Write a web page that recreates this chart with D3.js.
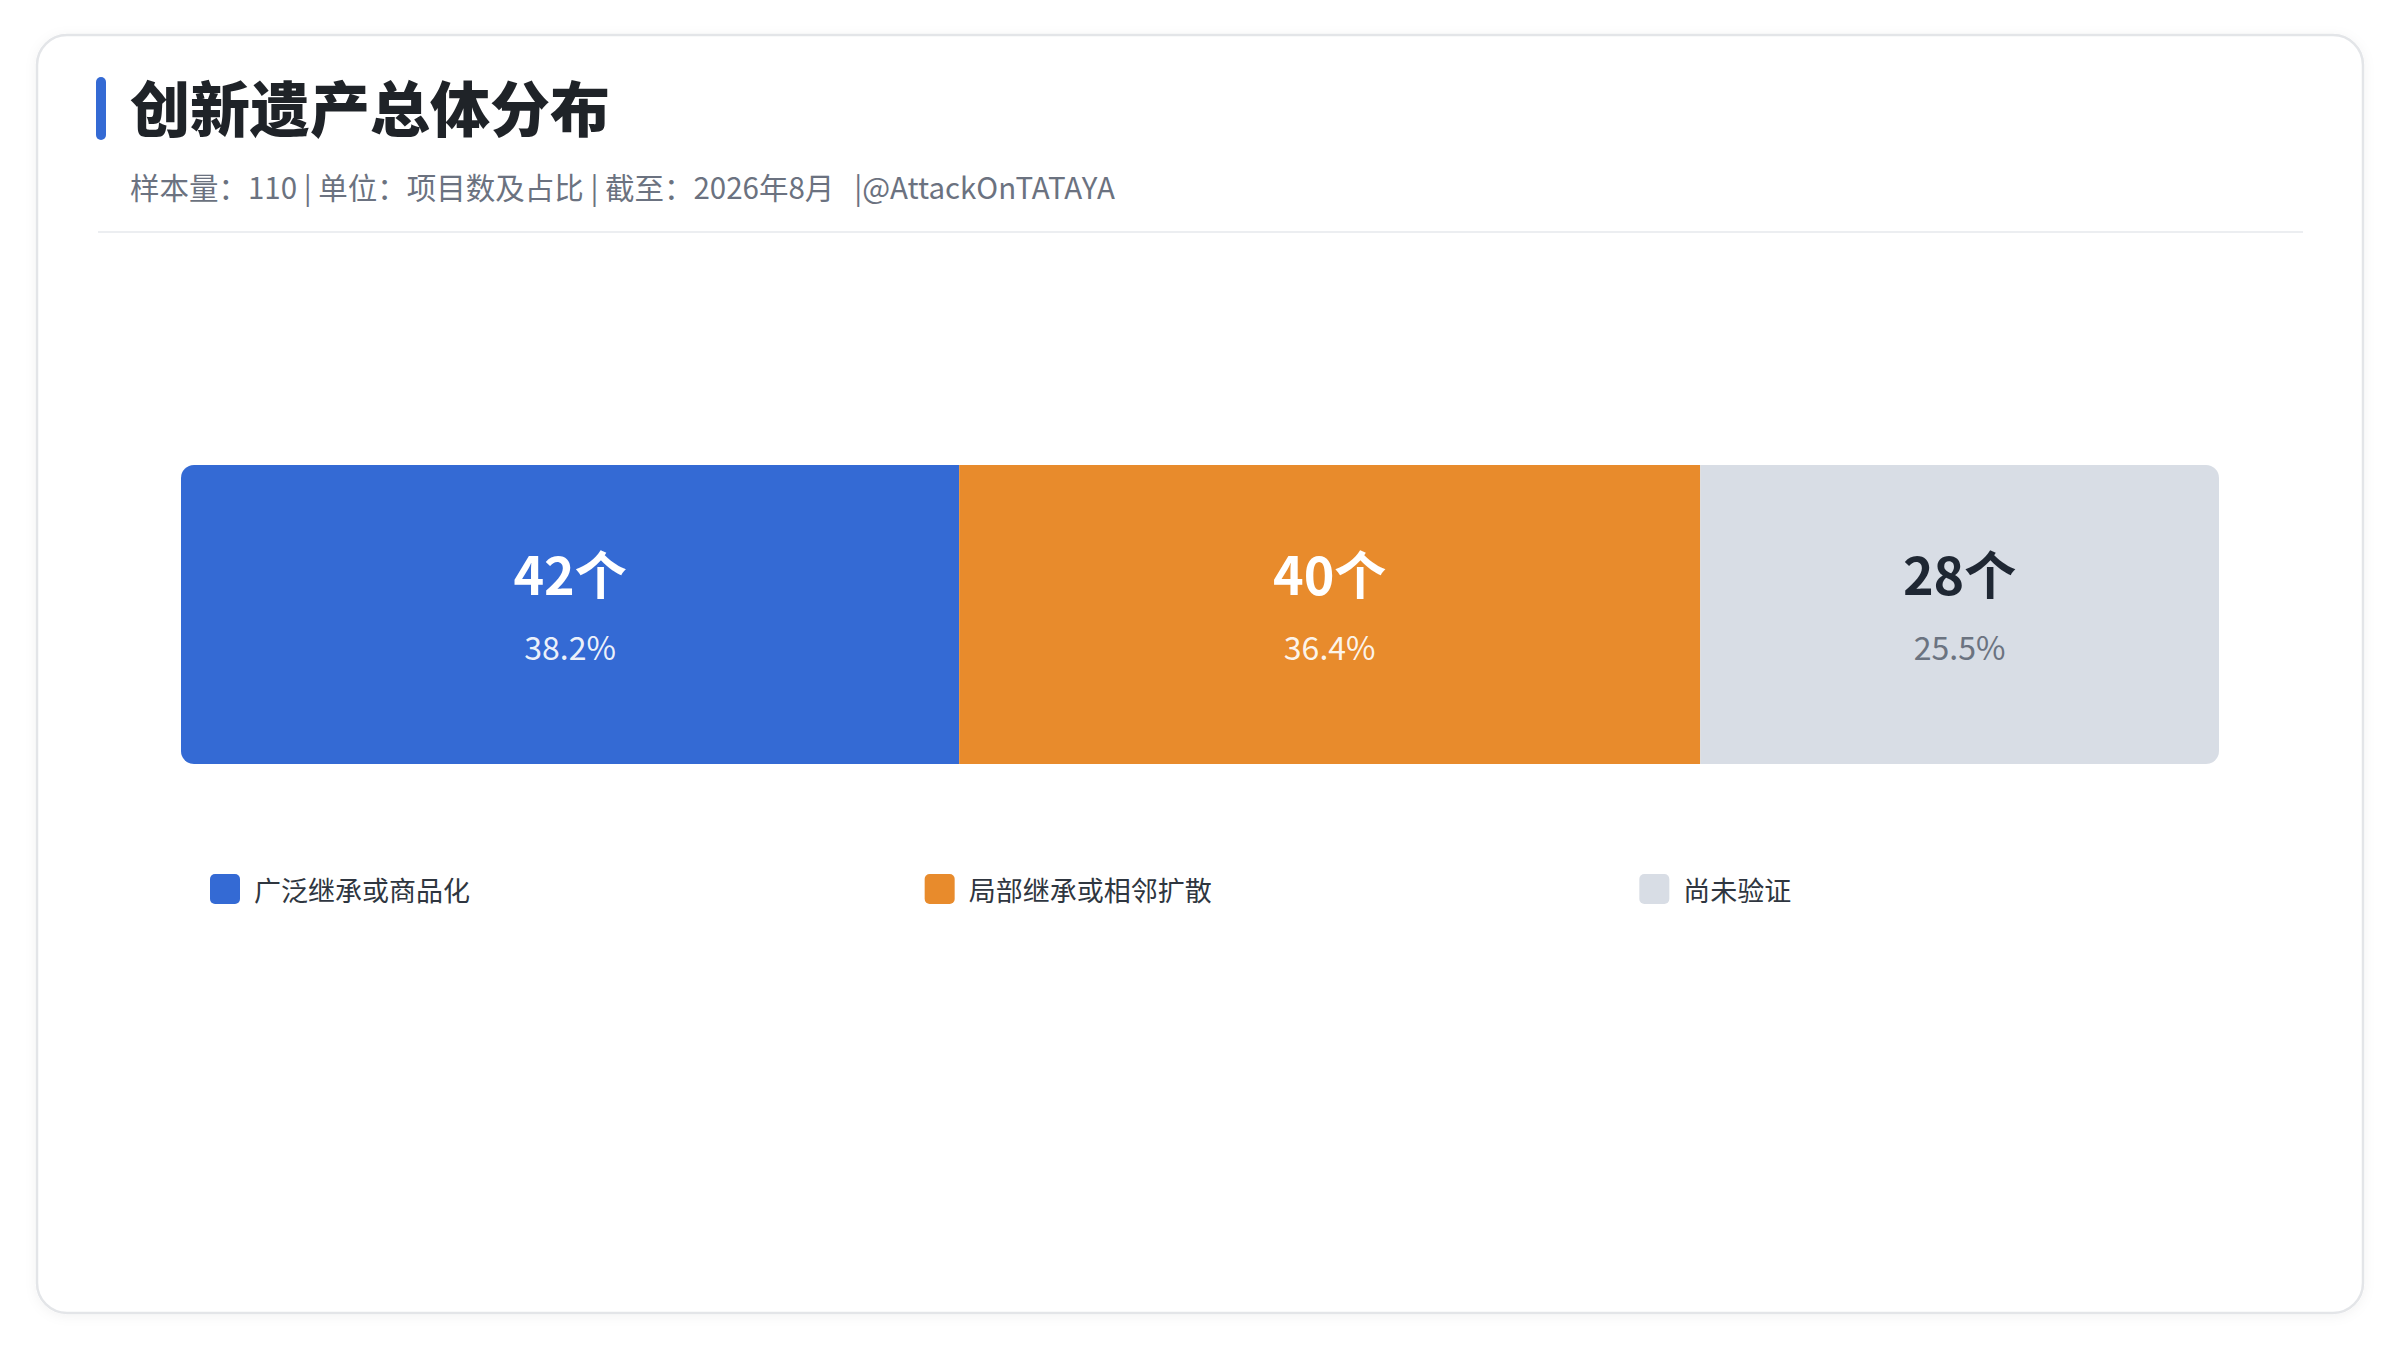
<!DOCTYPE html>
<html>
<head>
<meta charset="utf-8">
<script src="https://cdn.jsdelivr.net/npm/d3@7"></script>
<style>
  body { margin: 0; background: #ffffff; }
  svg { display: block; font-family: "Noto Sans CJK SC", "Noto Sans", sans-serif; }
</style>
</head>
<body>
<svg id="chart"></svg>
<script>
// data
const title = '创新遗产总体分布';
const subtitle = '样本量：110 | 单位：项目数及占比 | 截至：2026年8月   |@AttackOnTATAYA';
const categories = ['广泛继承或商品化', '局部继承或相邻扩散', '尚未验证'];
const counts = [42, 40, 28];
const percentLabels = ['38.2%', '36.4%', '25.5%'];
const total = 110;

const colors = ['#346ad4', '#e88b2c', '#d8dde5'];
const countColors = ['#ffffff', '#ffffff', '#1f2733'];
const pctColors = ['rgba(255,255,255,0.92)', 'rgba(255,255,255,0.92)', '#6b7380'];

const W = 2400, H = 1350;
const svg = d3.select('#chart').attr('width', W).attr('height', H);

const defs = svg.append('defs');
const shadow = defs.append('filter').attr('id', 'shadow')
    .attr('x', '-5%').attr('y', '-5%').attr('width', '110%').attr('height', '110%');
shadow.append('feDropShadow')
    .attr('dx', 0).attr('dy', 2).attr('stdDeviation', 6)
    .attr('flood-color', '#000').attr('flood-opacity', 0.05);

// card
svg.append('rect')
    .attr('x', 37).attr('y', 35)
    .attr('width', 2326).attr('height', 1278)
    .attr('rx', 30)
    .attr('fill', '#ffffff')
    .attr('stroke', '#e3e5e8')
    .attr('stroke-width', 2.5)
    .attr('filter', 'url(#shadow)');

// header
svg.append('rect')
    .attr('x', 96).attr('y', 77)
    .attr('width', 10).attr('height', 63)
    .attr('rx', 5)
    .attr('fill', '#346ad4');

svg.append('text')
    .attr('x', 130).attr('y', 105)
    .attr('dominant-baseline', 'central')
    .attr('font-size', 60)
    .attr('font-weight', 900)
    .attr('fill', '#1f2328')
    .text(title);

svg.append('text')
    .attr('x', 130).attr('y', 186)
    .attr('dominant-baseline', 'central')
    .attr('font-size', 29.5)
    .attr('fill', '#6b7280')
    .style('white-space', 'pre')
    .text(subtitle);

svg.append('line')
    .attr('x1', 98).attr('x2', 2303)
    .attr('y1', 232).attr('y2', 232)
    .attr('stroke', '#eceef1')
    .attr('stroke-width', 2);

// stacked bar
const margin = { left: 181, right: 2219, top: 465, bottom: 764 };
const x = d3.scaleLinear()
    .domain([0, total])
    .range([margin.left, margin.right]);

const data = categories.map((c, i) => ({
    category: c,
    count: counts[i],
    pct: percentLabels[i],
    start: d3.sum(counts.slice(0, i)),
    i
}));

defs.append('clipPath').attr('id', 'barClip')
    .append('rect')
    .attr('x', x(0)).attr('y', margin.top)
    .attr('width', x(total) - x(0))
    .attr('height', margin.bottom - margin.top)
    .attr('rx', 13);

const bar = svg.append('g').attr('clip-path', 'url(#barClip)');
bar.selectAll('.seg')
    .data(data)
    .enter()
    .append('rect')
    .attr('class', 'seg')
    .attr('x', d => x(d.start))
    .attr('y', margin.top)
    .attr('width', d => x(d.start + d.count) - x(d.start))
    .attr('height', margin.bottom - margin.top)
    .attr('fill', d => colors[d.i]);

const labels = svg.selectAll('.lbl')
    .data(data)
    .enter()
    .append('g')
    .attr('class', 'lbl')
    .attr('transform', d => `translate(${(x(d.start) + x(d.start + d.count)) / 2},0)`);

labels.append('text')
    .attr('y', 572)
    .attr('text-anchor', 'middle')
    .attr('dominant-baseline', 'central')
    .attr('font-size', 52)
    .attr('font-weight', 700)
    .attr('fill', d => countColors[d.i])
    .text(d => d.count + '个');

labels.append('text')
    .attr('y', 646)
    .attr('text-anchor', 'middle')
    .attr('dominant-baseline', 'central')
    .attr('font-size', 32)
    .attr('fill', d => pctColors[d.i])
    .text(d => d.pct);

// legend
const lx = d3.scaleBand()
    .domain(categories)
    .range([210, 2354]);

const legend = svg.selectAll('.legend')
    .data(data)
    .enter()
    .append('g')
    .attr('class', 'legend')
    .attr('transform', d => `translate(${lx(d.category)},889)`);

legend.append('rect')
    .attr('x', 0).attr('y', -15)
    .attr('width', 30).attr('height', 30)
    .attr('rx', 5)
    .attr('fill', d => colors[d.i]);

legend.append('text')
    .attr('x', 44).attr('y', 0)
    .attr('dominant-baseline', 'central')
    .attr('font-size', 27)
    .attr('fill', '#2f3640')
    .text(d => d.category);
</script>
</body>
</html>
